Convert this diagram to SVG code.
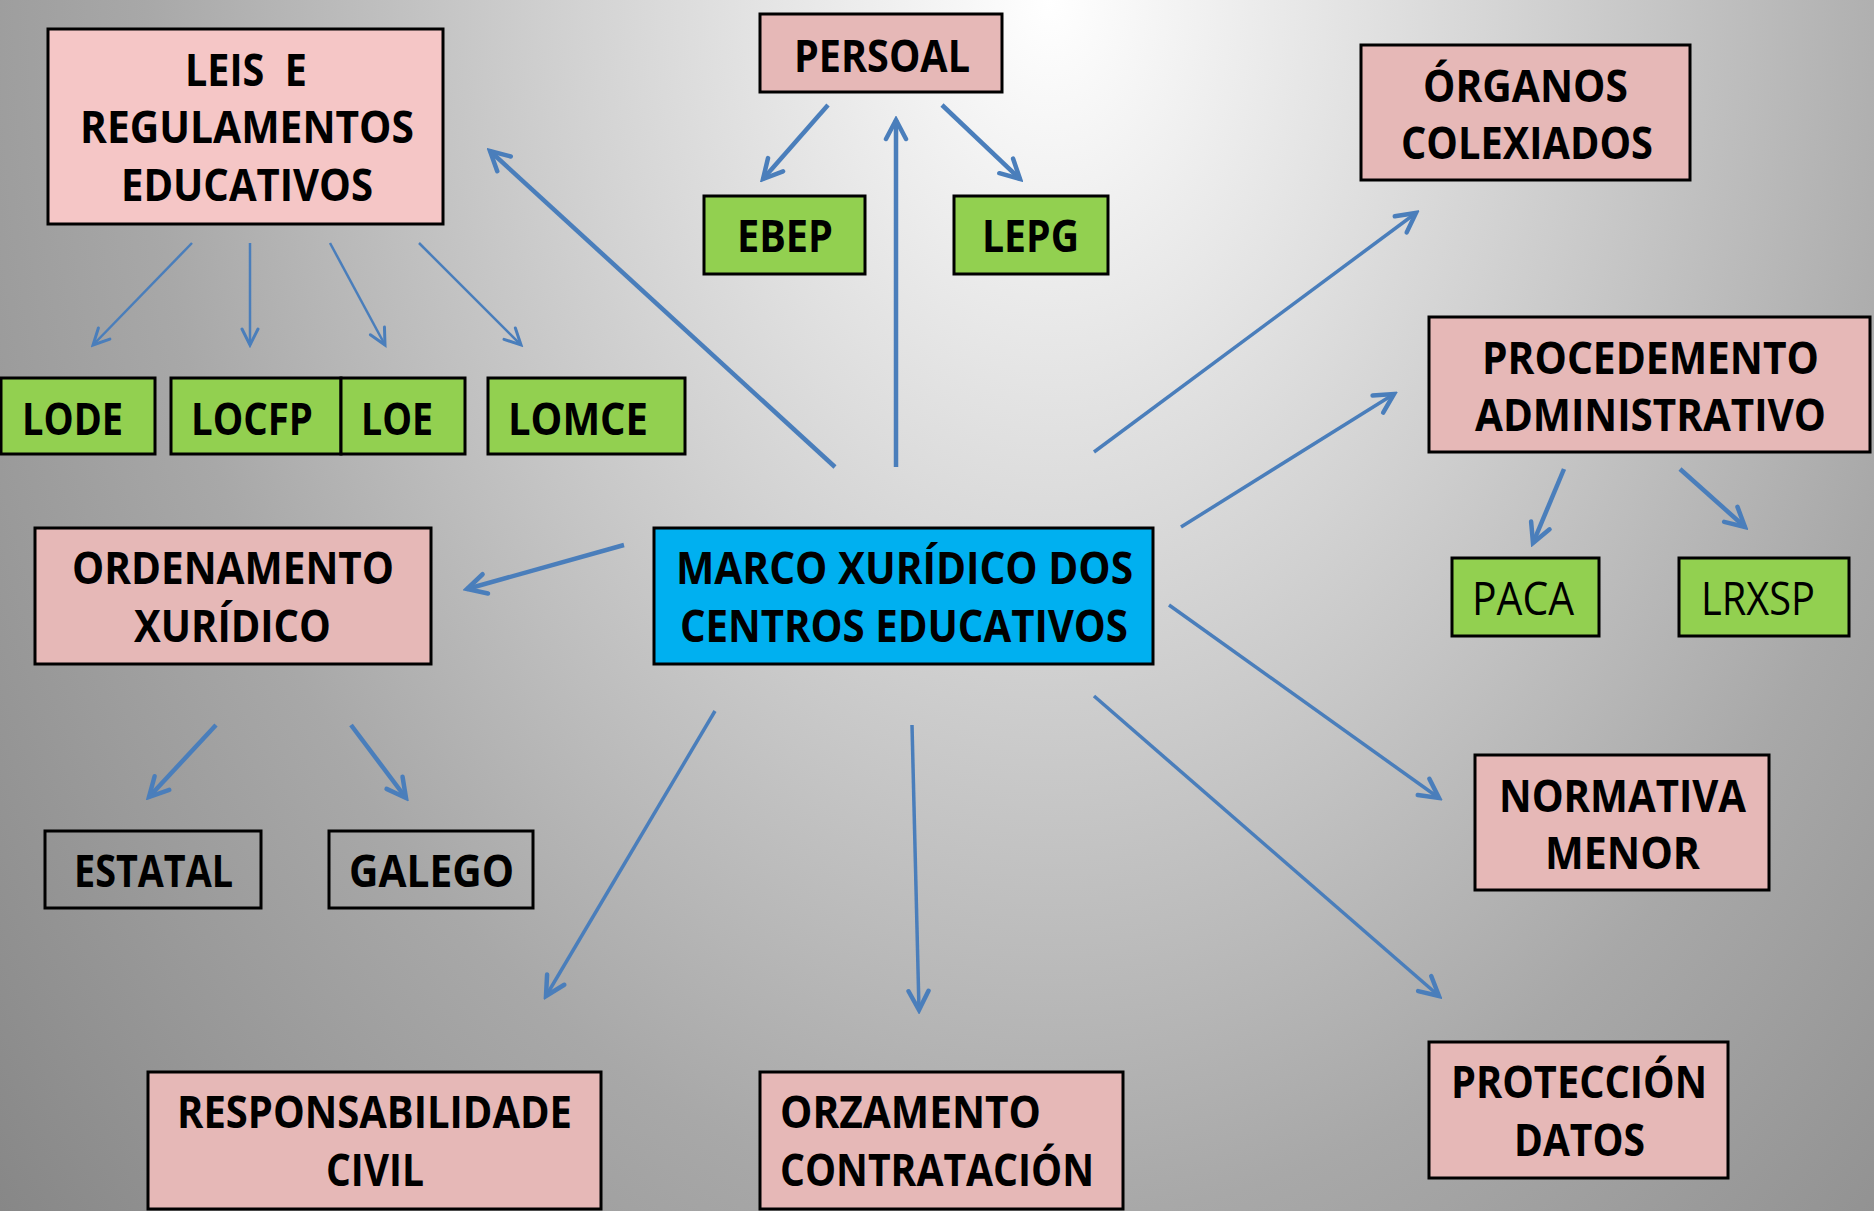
<svg xmlns="http://www.w3.org/2000/svg" width="1874" height="1211" viewBox="0 0 1874 1211">
<defs>
<radialGradient id="bg" gradientUnits="userSpaceOnUse" cx="1050" cy="0" r="1900" gradientTransform="translate(1050 0) scale(0.743 1) translate(-1050 0)">
<stop offset="0" stop-color="#ffffff"/>
<stop offset="0.33" stop-color="#d3d3d3"/>
<stop offset="0.64" stop-color="#a8a8a8"/>
<stop offset="1" stop-color="#858585"/>
</radialGradient>
<marker id="ah" markerUnits="userSpaceOnUse" viewBox="0 0 26 26" markerWidth="26" markerHeight="26" refX="22" refY="13" orient="auto">
<path d="M3,3 L22,13 L3,23" fill="none" stroke="#4A7EBB" stroke-width="4.5" stroke-linecap="round" stroke-linejoin="miter"/>
</marker>
<marker id="ahs" markerUnits="userSpaceOnUse" viewBox="0 0 22 22" markerWidth="22" markerHeight="22" refX="19" refY="11" orient="auto">
<path d="M3,3 L19,11 L3,19" fill="none" stroke="#4A7EBB" stroke-width="3" stroke-linecap="round" stroke-linejoin="miter"/>
</marker>
<style>
.box{stroke:#000;stroke-width:3}
.pink{fill:#E6B8B7}
.pinkl{fill:#F5C6C6}
.green{fill:#92D050}
.blue{fill:#00B0F0}
.clear{fill:none}
text{font-family:"Open Sans","Liberation Sans",sans-serif;font-weight:bold;font-size:45px;fill:#000}
.reg{font-weight:normal}
.c line{stroke:#4A7EBB;fill:none}
.thick{stroke-width:4.5;marker-end:url(#ah)}
.med{stroke-width:3.5;marker-end:url(#ah)}
.thin{stroke-width:2.5;marker-end:url(#ahs)}
</style>
</defs>
<rect x="0" y="0" width="1874" height="1211" fill="url(#bg)"/>

<g id="connectors" class="c">
<line class="thick" x1="835" y1="467" x2="490" y2="151"/>
<line class="thick" x1="896" y1="467" x2="896" y2="120"/>
<line class="thick" x1="828" y1="105" x2="763" y2="179"/>
<line class="thick" x1="942" y1="105" x2="1020" y2="179"/>
<line class="med" x1="1094" y1="452" x2="1416" y2="213"/>
<line class="med" x1="1181" y1="527" x2="1394" y2="394"/>
<line class="thick" x1="1564" y1="469" x2="1533" y2="543"/>
<line class="thick" x1="1680" y1="469" x2="1745" y2="527"/>
<line class="thick" x1="624" y1="545" x2="467" y2="589"/>
<line class="thick" x1="216" y1="725" x2="149" y2="797"/>
<line class="thick" x1="351" y1="725" x2="406" y2="798"/>
<line class="med" x1="1169" y1="605" x2="1439" y2="798"/>
<line class="med" x1="1094" y1="696" x2="1439" y2="996"/>
<line class="med" x1="715" y1="711" x2="546" y2="996"/>
<line class="med" x1="912" y1="725" x2="919" y2="1010"/>
<line class="thin" x1="192" y1="243" x2="93" y2="345"/>
<line class="thin" x1="250" y1="243" x2="250" y2="345"/>
<line class="thin" x1="330" y1="243" x2="385" y2="345"/>
<line class="thin" x1="419" y1="243" x2="521" y2="345"/>
</g>

<g id="leis">
<rect class="box pinkl" x="48" y="29" width="395" height="195"/>
<text x="185" y="86" textLength="122" lengthAdjust="spacingAndGlyphs" xml:space="preserve">LEIS  E</text>
<text x="80" y="143" textLength="334" lengthAdjust="spacingAndGlyphs">REGULAMENTOS</text>
<text x="121" y="201" textLength="252" lengthAdjust="spacingAndGlyphs">EDUCATIVOS</text>
</g>
<g id="persoal">
<rect class="box pink" x="760" y="14" width="242" height="78"/>
<text x="794" y="72" textLength="176" lengthAdjust="spacingAndGlyphs">PERSOAL</text>
</g>
<g id="ebep">
<rect class="box green" x="704" y="196" width="161" height="78"/>
<text x="737" y="252" textLength="96" lengthAdjust="spacingAndGlyphs">EBEP</text>
</g>
<g id="lepg">
<rect class="box green" x="954" y="196" width="154" height="78"/>
<text x="982" y="252" textLength="97" lengthAdjust="spacingAndGlyphs">LEPG</text>
</g>
<g id="organos">
<rect class="box pink" x="1361" y="45" width="329" height="135"/>
<text x="1423" y="102" textLength="205" lengthAdjust="spacingAndGlyphs">ÓRGANOS</text>
<text x="1401" y="159" textLength="252" lengthAdjust="spacingAndGlyphs">COLEXIADOS</text>
</g>
<g id="procedemento">
<rect class="box pink" x="1429" y="317" width="441" height="135"/>
<text x="1482" y="374" textLength="337" lengthAdjust="spacingAndGlyphs">PROCEDEMENTO</text>
<text x="1475" y="431" textLength="351" lengthAdjust="spacingAndGlyphs">ADMINISTRATIVO</text>
</g>
<g id="paca">
<rect class="box green" x="1452" y="558" width="147" height="78"/>
<text class="reg" x="1472" y="615" textLength="102" lengthAdjust="spacingAndGlyphs">PACA</text>
</g>
<g id="lrxsp">
<rect class="box green" x="1679" y="558" width="170" height="78"/>
<text class="reg" x="1701" y="615" textLength="114" lengthAdjust="spacingAndGlyphs">LRXSP</text>
</g>
<g id="lode">
<rect class="box green" x="1" y="378" width="154" height="76"/>
<text x="22" y="435" textLength="101" lengthAdjust="spacingAndGlyphs">LODE</text>
</g>
<g id="locfp">
<rect class="box green" x="171" y="378" width="170" height="76"/>
<text x="191" y="435" textLength="122" lengthAdjust="spacingAndGlyphs">LOCFP</text>
</g>
<g id="loe">
<rect class="box green" x="341" y="378" width="124" height="76"/>
<text x="361" y="435" textLength="72" lengthAdjust="spacingAndGlyphs">LOE</text>
</g>
<g id="lomce">
<rect class="box green" x="488" y="378" width="197" height="76"/>
<text x="508" y="435" textLength="140" lengthAdjust="spacingAndGlyphs">LOMCE</text>
</g>
<g id="ordenamento">
<rect class="box pink" x="35" y="528" width="396" height="136"/>
<text x="72" y="584" textLength="322" lengthAdjust="spacingAndGlyphs">ORDENAMENTO</text>
<text x="134" y="642" textLength="197" lengthAdjust="spacingAndGlyphs">XURÍDICO</text>
</g>
<g id="marco">
<rect class="box blue" x="654" y="528" width="499" height="136"/>
<text x="676" y="584" textLength="457" lengthAdjust="spacingAndGlyphs">MARCO XURÍDICO DOS</text>
<text x="680" y="642" textLength="448" lengthAdjust="spacingAndGlyphs">CENTROS EDUCATIVOS</text>
</g>
<g id="estatal">
<rect class="box clear" x="45" y="831" width="216" height="77"/>
<text x="74" y="887" textLength="159" lengthAdjust="spacingAndGlyphs">ESTATAL</text>
</g>
<g id="galego">
<rect class="box clear" x="329" y="831" width="204" height="77"/>
<text x="349" y="887" textLength="165" lengthAdjust="spacingAndGlyphs">GALEGO</text>
</g>
<g id="normativa">
<rect class="box pink" x="1475" y="755" width="294" height="135"/>
<text x="1499" y="812" textLength="247" lengthAdjust="spacingAndGlyphs">NORMATIVA</text>
<text x="1545" y="869" textLength="155" lengthAdjust="spacingAndGlyphs">MENOR</text>
</g>
<g id="proteccion">
<rect class="box pink" x="1429" y="1042" width="299" height="136"/>
<text x="1451" y="1098" textLength="256" lengthAdjust="spacingAndGlyphs">PROTECCIÓN</text>
<text x="1514" y="1156" textLength="131" lengthAdjust="spacingAndGlyphs">DATOS</text>
</g>
<g id="responsabilidade">
<rect class="box pink" x="148" y="1072" width="453" height="137"/>
<text x="177" y="1128" textLength="395" lengthAdjust="spacingAndGlyphs">RESPONSABILIDADE</text>
<text x="326" y="1186" textLength="98" lengthAdjust="spacingAndGlyphs">CIVIL</text>
</g>
<g id="orzamento">
<rect class="box pink" x="760" y="1072" width="363" height="137"/>
<text x="780" y="1128" textLength="261" lengthAdjust="spacingAndGlyphs">ORZAMENTO</text>
<text x="780" y="1186" textLength="314" lengthAdjust="spacingAndGlyphs">CONTRATACIÓN</text>
</g>
</svg>
